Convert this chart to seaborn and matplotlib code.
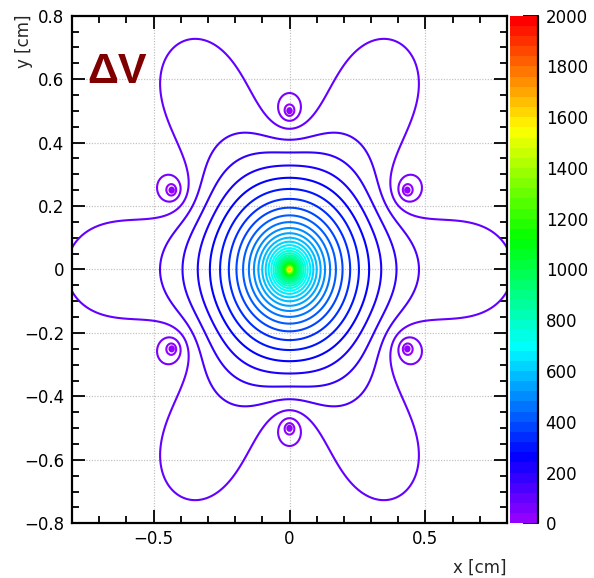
import colorsys

import numpy as np
import matplotlib
matplotlib.use("Agg")
import matplotlib.pyplot as plt
import seaborn as sns
from matplotlib.colors import ListedColormap, BoundaryNorm
from matplotlib.ticker import MultipleLocator

sns.set_theme(style="ticks")
plt.rcParams["font.family"] = ["DejaVu Sans"]

# Wire layout: anode in the centre, six field wires on a hexagon (cm)
wire_x = [0.0, 0.0, 0.433, 0.433, 0.0, -0.433, -0.433]
wire_y = [0.0, 0.5, 0.25, -0.25, -0.5, -0.25, 0.25]
# Line-charge strength of each wire, in V per e-fold of distance
wire_q = [300.0, -50.0, -50.0, -50.0, -50.0, -50.0, -50.0]
v_offset = 37.5

# Colour scale / contour settings
z_min, z_max, n_colors = 0, 2000, 50
contour_step = 40
lowest_level = -120
cbar_ticks = list(range(0, 2001, 200))

# ROOT-style "pretty" palette: HLS hue scanned from violet to red
hues = [280 - (i + 1) * (280 / n_colors) for i in range(n_colors - 1)] + [0]
palette = sns.color_palette([colorsys.hls_to_rgb(h / 360, 0.5, 1.0) for h in hues])
cmap = ListedColormap(palette)
bounds = np.linspace(z_min, z_max, n_colors + 1)
norm = BoundaryNorm(bounds, cmap.N)

# Potential map on a grid (the anode itself is never sampled)
xs = np.linspace(-0.8, 0.8, 400)
ys = np.linspace(-0.8, 0.8, 400)
X, Y = np.meshgrid(xs, ys)
V = np.full_like(X, v_offset)
for wx, wy, q in zip(wire_x, wire_y, wire_q):
    V -= q * np.log(np.hypot(X - wx, Y - wy))

levels = np.arange(lowest_level, z_max, contour_step)
levels = levels[levels < V.max()]
# each line takes the colour of the band just above its level
line_colors = [cmap(norm(min(max(l + contour_step, z_min), z_max - 1))) for l in levels]

fig = plt.figure(figsize=(5.94, 5.78), dpi=100)
ax = fig.add_axes([72 / 594, 1 - 523.3 / 578, 435 / 594, 507.6 / 578])
cax = fig.add_axes([510 / 594, 1 - 523.3 / 578, 28 / 594, 507.6 / 578])

ax.contour(X, Y, V, levels=levels, colors=line_colors, linewidths=1.5)

ax.set_xlim(-0.8, 0.8)
ax.set_ylim(-0.8, 0.8)
ax.xaxis.set_minor_locator(MultipleLocator(0.1))
ax.yaxis.set_minor_locator(MultipleLocator(0.05))
ax.grid(True, which="major", color="#c4c4c4", linestyle=(0, (1, 1.2)), linewidth=0.9)
ax.set_axisbelow(True)
for sp in ax.spines.values():
    sp.set_color("black")
    sp.set_linewidth(1.6)
ax.tick_params(which="both", direction="in", top=True, right=True, colors="black",
               labelsize=12, width=1.3)
ax.tick_params(which="major", length=9.5, pad=5.5)
ax.tick_params(which="minor", length=5)
ax.tick_params(axis="x", which="major", pad=4.5)


def fmt(v):
    s = f"{v + 0.0:g}"
    return s.replace("-", "\u2212")


xt = [-0.5, 0.0, 0.5]
ax.set_xticks(xt)
ax.set_xticklabels([fmt(v) for v in xt])
yt = [round(v, 1) + 0.0 for v in np.arange(-0.8, 0.81, 0.2)]
ax.set_yticks(yt)
ax.set_yticklabels([fmt(v) for v in yt])

ax.text(0.035, 0.868, "\u0394V", transform=ax.transAxes, fontsize=31,
        fontweight="bold", color="#800000", ha="left", va="baseline",
        family=["Liberation Sans", "DejaVu Sans"])

fig.text(507 / 594, 1 - 577 / 578, "x [cm]", ha="right", va="bottom", fontsize=12)
fig.text(15 / 594, 1 - 15 / 578, "y [cm]", rotation=90, ha="left", va="top", fontsize=12)

# Colour bar
sm = matplotlib.cm.ScalarMappable(norm=norm, cmap=cmap)
cb = fig.colorbar(sm, cax=cax, ticks=cbar_ticks)
cb.minorticks_off()
cb.outline.set_visible(False)
cax.plot([1, 1], [0, 1], transform=cax.transAxes, color="black", lw=1.6, clip_on=False)
cax.tick_params(direction="in", length=11, width=1.3, colors="black", labelsize=12, pad=5.5)
cax.yaxis.set_ticks_position("right")

fig.savefig("out.png", dpi=100)
